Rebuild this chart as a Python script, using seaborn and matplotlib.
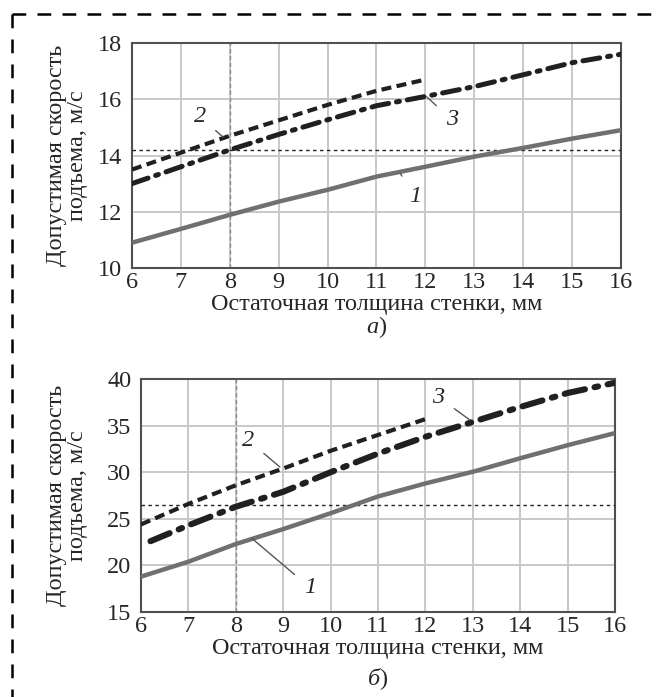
import matplotlib
matplotlib.use("Agg")
import matplotlib.pyplot as plt
import seaborn as sns
import pandas as pd
from matplotlib.lines import Line2D

# ---- data (panel а) ----
xa = [6, 7, 8, 9, 10, 11, 12, 13, 14, 15, 16]
a_curve1 = [10.9, 11.39, 11.89, 12.36, 12.78, 13.25, 13.6, 13.96, 14.27, 14.6, 14.9]
xa2 = [6, 7, 8, 9, 10, 11, 12]
a_curve2 = [13.5, 14.1, 14.7, 15.25, 15.8, 16.3, 16.7]
a_curve3 = [13.0, 13.6, 14.2, 14.75, 15.27, 15.77, 16.1, 16.45, 16.87, 17.3, 17.6]
a_hline = 14.2

# ---- data (panel б) ----
xb = [6, 7, 8, 9, 10, 11, 12, 13, 14, 15, 16]
b_curve1 = [18.8, 20.4, 22.3, 23.9, 25.6, 27.4, 28.8, 30.05, 31.5, 32.9, 34.2]
xb2 = [6, 7, 8, 9, 10, 11, 12]
b_curve2 = [24.4, 26.6, 28.6, 30.4, 32.3, 34.0, 35.7]
xb3 = [6.2, 7, 8, 9, 10, 11, 12, 13, 14, 15, 16]
b_curve3 = [22.6, 24.3, 26.3, 27.9, 30.0, 32.0, 33.8, 35.4, 37.0, 38.5, 39.6]
b_hline = 26.5

vline_x = 8
xticks = list(range(6, 17))
a_yticks = [10, 12, 14, 16, 18]
b_yticks = [15, 20, 25, 30, 35, 40]

ylabel = "Допустимая скорость\nподъема, м/с"
xlabel = "Остаточная толщина стенки, мм"

sns.set_style("white")
plt.rcParams['font.family'] = ['Liberation Serif', 'DejaVu Serif']
plt.rcParams['mathtext.fontset'] = 'custom'
plt.rcParams['mathtext.rm'] = 'Liberation Serif'
plt.rcParams['mathtext.it'] = 'Liberation Serif:italic'

FS = 17.5
fig = plt.figure(figsize=(6.57, 6.97), dpi=100)
ax1 = fig.add_axes([0.2009, 0.6155, 0.7443, 0.3228])
ax2 = fig.add_axes([0.2146, 0.1219, 0.7215, 0.3343])

gray = "#707070"

def style_axes(ax, yticks):
    ax.set_xlim(6, 16)
    ax.set_ylim(yticks[0], yticks[-1])
    ax.set_xticks(xticks)
    ax.set_yticks(yticks)
    ax.grid(True, color="#c8c8c8", lw=1.4)
    ax.set_axisbelow(True)
    for s in ax.spines.values():
        s.set_color("#505050")
        s.set_linewidth(1.5)
        s.set_visible(True)
    ax.tick_params(axis='both', labelsize=FS, length=0)
    ax.tick_params(axis='x', pad=3)
    ax.tick_params(axis='y', pad=7)
    ax.axvline(vline_x, color="#888888", lw=1.0, ls=(0, (3, 2)), zorder=2)

def draw(ax, x1, y1, x2, y2, x3, y3, hl, lw3):
    sns.lineplot(x=x1, y=y1, ax=ax, color=gray, lw=3.2, zorder=4)
    sns.lineplot(x=x2, y=y2, ax=ax, color="#202020", lw=3.0, zorder=5)
    ax.lines[-1].set_dashes((2.4, 1.3))
    sns.lineplot(x=x3, y=y3, ax=ax, color="#202020", lw=lw3, zorder=5)
    ax.lines[-1].set_dashes((3.4, 1.6, 0.6, 1.6))
    ax.lines[-1].set_dash_capstyle('round')
    ax.axhline(hl, color="#222222", lw=1.0, ls=(0, (2.5, 2.5)), zorder=3)

style_axes(ax1, a_yticks)
draw(ax1, xa, a_curve1, xa2, a_curve2, xa, a_curve3, a_hline, 3.6)
style_axes(ax2, b_yticks)
draw(ax2, xb, b_curve1, xb2, b_curve2, xb3, b_curve3, b_hline, 4.4)

for ax in (ax1, ax2):
    ax.set_xlabel(xlabel, fontsize=FS, labelpad=0.5)
    ax.set_ylabel(ylabel, fontsize=FS, linespacing=1.0)

ax1.yaxis.set_label_coords(-0.09, 0.5)
ax2.yaxis.set_label_coords(-0.112, 0.5)

# captions
ax1.text(0.5, -0.205, "$\\it{а}$)", transform=ax1.transAxes, ha='center', va='top', fontsize=FS)
ax2.text(0.5, -0.23, "$\\it{б}$)", transform=ax2.transAxes, ha='center', va='top', fontsize=FS)

# curve labels with leader lines
def lab(ax, txt, tx, ty, px, py):
    ax.annotate(txt, xy=(px, py), xytext=(tx, ty), fontsize=FS, style='italic',
                ha='center', va='center', zorder=6,
                arrowprops=dict(arrowstyle='-', color='#555555', lw=1.0,
                                shrinkA=6, shrinkB=0))

lab(ax1, "2", 7.39, 15.37, 7.86, 14.66)
lab(ax1, "3", 12.54, 15.27, 12.03, 16.08)
lab(ax1, "1", 11.79, 12.53, 11.48, 13.38)
lab(ax2, "2", 8.26, 33.45, 8.93, 30.56)
lab(ax2, "1", 9.57, 17.6, 8.34, 22.9)
lab(ax2, "3", 12.27, 38.07, 12.94, 35.6)

# dashed frame (top and left)
fx = 12 / 657
fy = 1 - 14 / 697
fig.add_artist(Line2D([fx, 1.0], [fy, fy], transform=fig.transFigure,
                      color='black', lw=1.8, ls=(0, (5.5, 4.5))))
fig.add_artist(Line2D([fx, fx], [fy, 0.0], transform=fig.transFigure,
                      color='black', lw=1.8, ls=(0, (5.5, 4.5))))

fig.savefig("out.png", dpi=100)
